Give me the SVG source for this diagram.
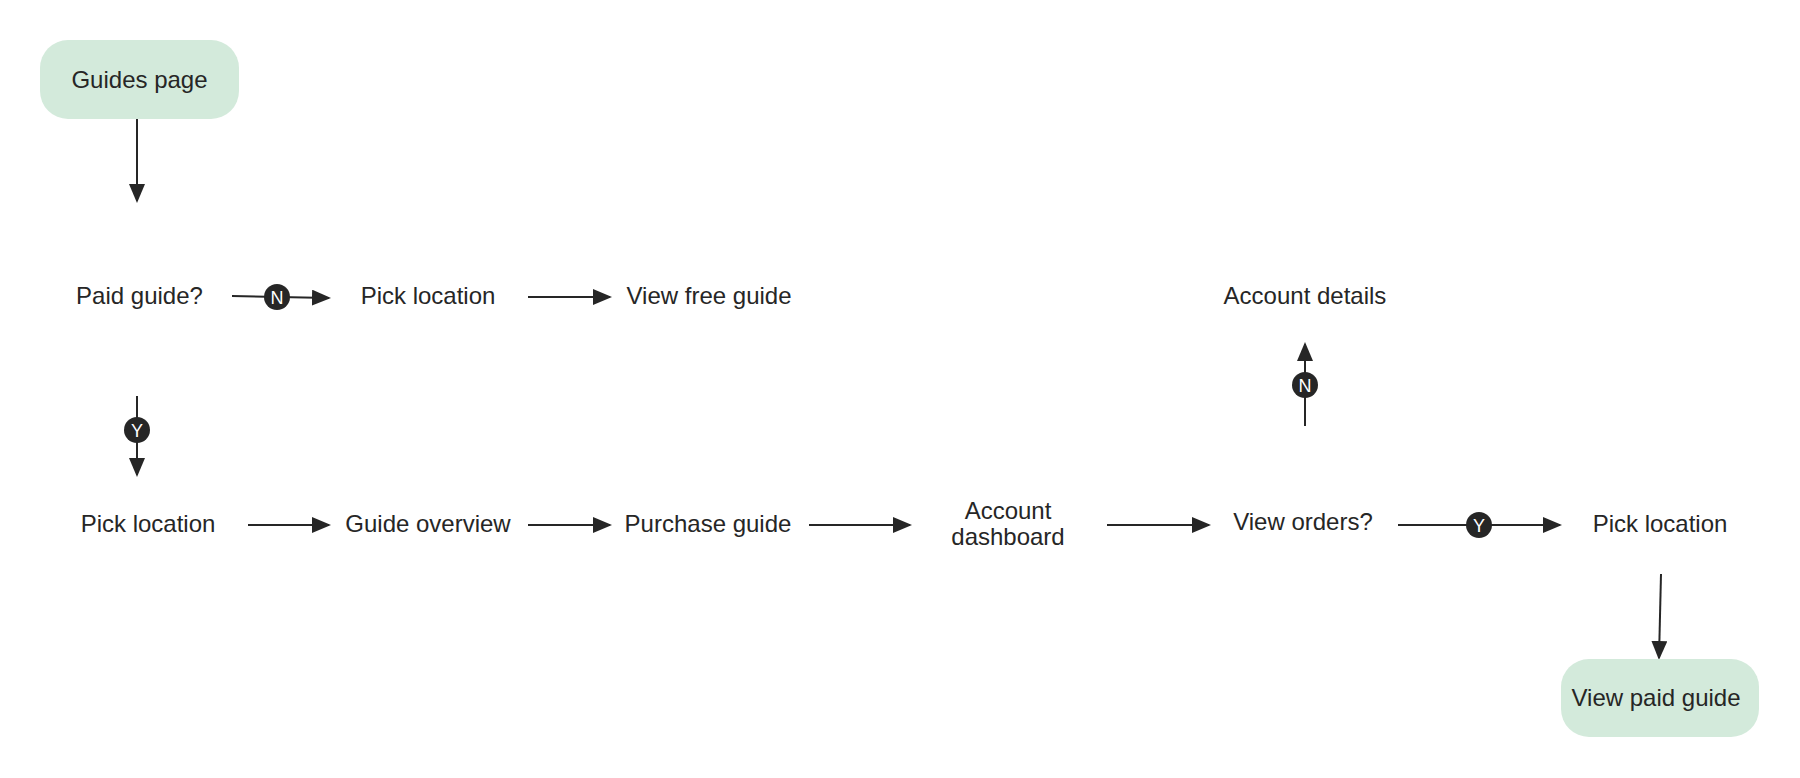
<svg xmlns="http://www.w3.org/2000/svg" width="1800" height="778" viewBox="0 0 1800 778">
<style>
.t{font-family:"Liberation Sans",Arial,Helvetica,sans-serif;font-size:24px;fill:#262626;text-anchor:middle}
.term{fill:#d3eadb}
.c{stroke:#262626;stroke-width:2;fill:none}
.b{fill:#262626}
.bl{font-family:"Liberation Sans",Arial,sans-serif;font-size:18px;fill:#fff;text-anchor:middle}
</style>
<defs>
<marker id="ah" markerUnits="userSpaceOnUse" markerWidth="19" markerHeight="17" refX="17" refY="8" orient="auto">
<path d="M0,0 L19,8 L0,16 z" fill="#262626"/>
</marker>
</defs>
<rect width="1800" height="778" fill="#fff"/>
<g id="connectors">
<line class="c" x1="137" y1="119" x2="137" y2="201" marker-end="url(#ah)"/>
<line class="c" x1="232" y1="296" x2="329" y2="298" marker-end="url(#ah)"/>
<line class="c" x1="528" y1="297" x2="610" y2="297" marker-end="url(#ah)"/>
<line class="c" x1="137" y1="396" x2="137" y2="475" marker-end="url(#ah)"/>
<line class="c" x1="248" y1="525" x2="329" y2="525" marker-end="url(#ah)"/>
<line class="c" x1="528" y1="525" x2="610" y2="525" marker-end="url(#ah)"/>
<line class="c" x1="809" y1="525" x2="910" y2="525" marker-end="url(#ah)"/>
<line class="c" x1="1107" y1="525" x2="1209" y2="525" marker-end="url(#ah)"/>
<line class="c" x1="1398" y1="525" x2="1560" y2="525" marker-end="url(#ah)"/>
<line class="c" x1="1305" y1="426" x2="1305" y2="344" marker-end="url(#ah)"/>
<line class="c" x1="1661" y1="574" x2="1659" y2="658" marker-end="url(#ah)"/>
<g id="badges">
<circle class="b" cx="277" cy="297" r="13"/><text class="bl" x="277" y="303.5">N</text>
<circle class="b" cx="137" cy="430" r="13"/><text class="bl" x="137" y="436.5">Y</text>
<circle class="b" cx="1479" cy="525" r="13"/><text class="bl" x="1479" y="531.5">Y</text>
<circle class="b" cx="1305" cy="385" r="13"/><text class="bl" x="1305" y="391.5">N</text>
</g>
</g>
<g id="guides-page"><rect class="term" x="40" y="40" width="199" height="79" rx="28"/><text class="t" x="139.5" y="88">Guides page</text></g>
<g id="paid-guide"><text class="t" x="139.5" y="304">Paid guide?</text></g>
<g id="pick-location-1"><text class="t" x="428" y="304">Pick location</text></g>
<g id="view-free-guide"><text class="t" x="709" y="304">View free guide</text></g>
<g id="account-details"><text class="t" x="1305" y="304">Account details</text></g>
<g id="pick-location-2"><text class="t" x="148" y="532">Pick location</text></g>
<g id="guide-overview"><text class="t" x="428" y="532">Guide overview</text></g>
<g id="purchase-guide"><text class="t" x="708" y="532">Purchase guide</text></g>
<g id="account-dashboard"><text class="t" x="1008" y="519">Account</text><text class="t" x="1008" y="545">dashboard</text></g>
<g id="view-orders"><text class="t" x="1303" y="530">View orders?</text></g>
<g id="pick-location-3"><text class="t" x="1660" y="532">Pick location</text></g>
<g id="view-paid-guide"><rect class="term" x="1561" y="659" width="198" height="78" rx="28"/><text class="t" x="1656" y="706">View paid guide</text></g>
</svg>
